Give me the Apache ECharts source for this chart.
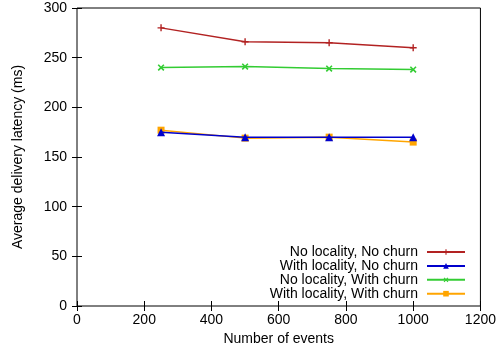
<!DOCTYPE html>
<html><head><meta charset="utf-8">
<script src="https://cdn.jsdelivr.net/npm/echarts@6/dist/echarts.min.js"></script>
<style>html,body{margin:0;padding:0;background:#fff}#c{width:499px;height:354px}</style>
</head><body><div id="c"></div>
<script>
var events = [250, 500, 750, 1000];
var seriesNames = ['No locality, No churn','With locality, No churn','No locality, With churn','With locality, With churn'];
var noLocNoChurn = [280, 266, 265, 260];
var locNoChurn = [175, 170, 170, 170];
var noLocChurn = [240, 241, 239, 238];
var locChurn = [177, 169, 170, 165];
var xTicks = [0, 200, 400, 600, 800, 1000, 1200];
var yTicks = [0, 50, 100, 150, 200, 250, 300];

var plus = 'path://M4,0H6V4H10V6H6V10H4V6H0V4H4Z';
var colors = ['#b22222', '#0000cc', '#33cc33', '#ffa500'];
var symbols = [plus, 'triangle', plus, 'rect'];
var rot = [0, 0, 45, 0];
var sizes = [7, 8, 8, 7];
var values = [noLocNoChurn, locNoChurn, noLocChurn, locChurn];
var font = 'Liberation Sans';
var fs = 14;

function pairs(v){ return events.map(function(e,i){ return [e, v[i]]; }); }

var series = values.map(function(v, k){
  return {
    name: seriesNames[k], type: 'line', data: pairs(v),
    symbol: symbols[k], symbolSize: sizes[k], symbolRotate: rot[k],
    lineStyle: {color: colors[k], width: 1.5},
    itemStyle: {color: colors[k]},
    z: 10 - k, animation: false
  };
});

var legends = seriesNames.map(function(n, k){
  return {
    data: [n], right: 33, top: 245 + k * 13.9, align: 'right',
    itemWidth: 38, itemHeight: 7, itemGap: 0, padding: 0,
    textStyle: {fontFamily: font, fontSize: fs, color: '#000', padding: [0, 4, 0, 0]}
  };
});

var axisCommon = {
  type: 'value', splitLine: {show: false},
  axisLine: {show: false},
  axisTick: {show: true, inside: true, length: 5, lineStyle: {color: '#000'}}
};

var chart = echarts.init(document.getElementById('c'), null, {renderer: 'canvas'});
chart.setOption({
  animation: false,
  backgroundColor: '#fff',
  grid: {left: 77, right: 16, top: 8, bottom: 48, show: true, borderColor: '#000', borderWidth: 1},
  legend: legends,
  xAxis: [
    Object.assign({}, axisCommon, {min: 0, max: 1200, interval: 200, position: 'bottom',
      name: 'Number of events', nameLocation: 'middle', nameGap: 26,
      nameTextStyle: {fontFamily: font, fontSize: fs, color: '#000'},
      axisLabel: {fontFamily: font, fontSize: fs, color: '#000', margin: 7,
        formatter: function(v){ return xTicks.indexOf(v) >= 0 ? String(v) : ''; }}}),
    Object.assign({}, axisCommon, {min: 0, max: 1200, interval: 200, position: 'top', axisLabel: {show: false}})
  ],
  yAxis: [
    Object.assign({}, axisCommon, {min: 0, max: 300, interval: 50, position: 'left',
      name: 'Average delivery latency (ms)', nameLocation: 'middle', nameGap: 52,
      nameTextStyle: {fontFamily: font, fontSize: fs, color: '#000'},
      axisLabel: {fontFamily: font, fontSize: fs, color: '#000', margin: 10,
        formatter: function(v){ return yTicks.indexOf(v) >= 0 ? String(v) : ''; }}}),
    Object.assign({}, axisCommon, {min: 0, max: 300, interval: 50, position: 'right', axisLabel: {show: false}})
  ],
  series: series
});
</script></body></html>
